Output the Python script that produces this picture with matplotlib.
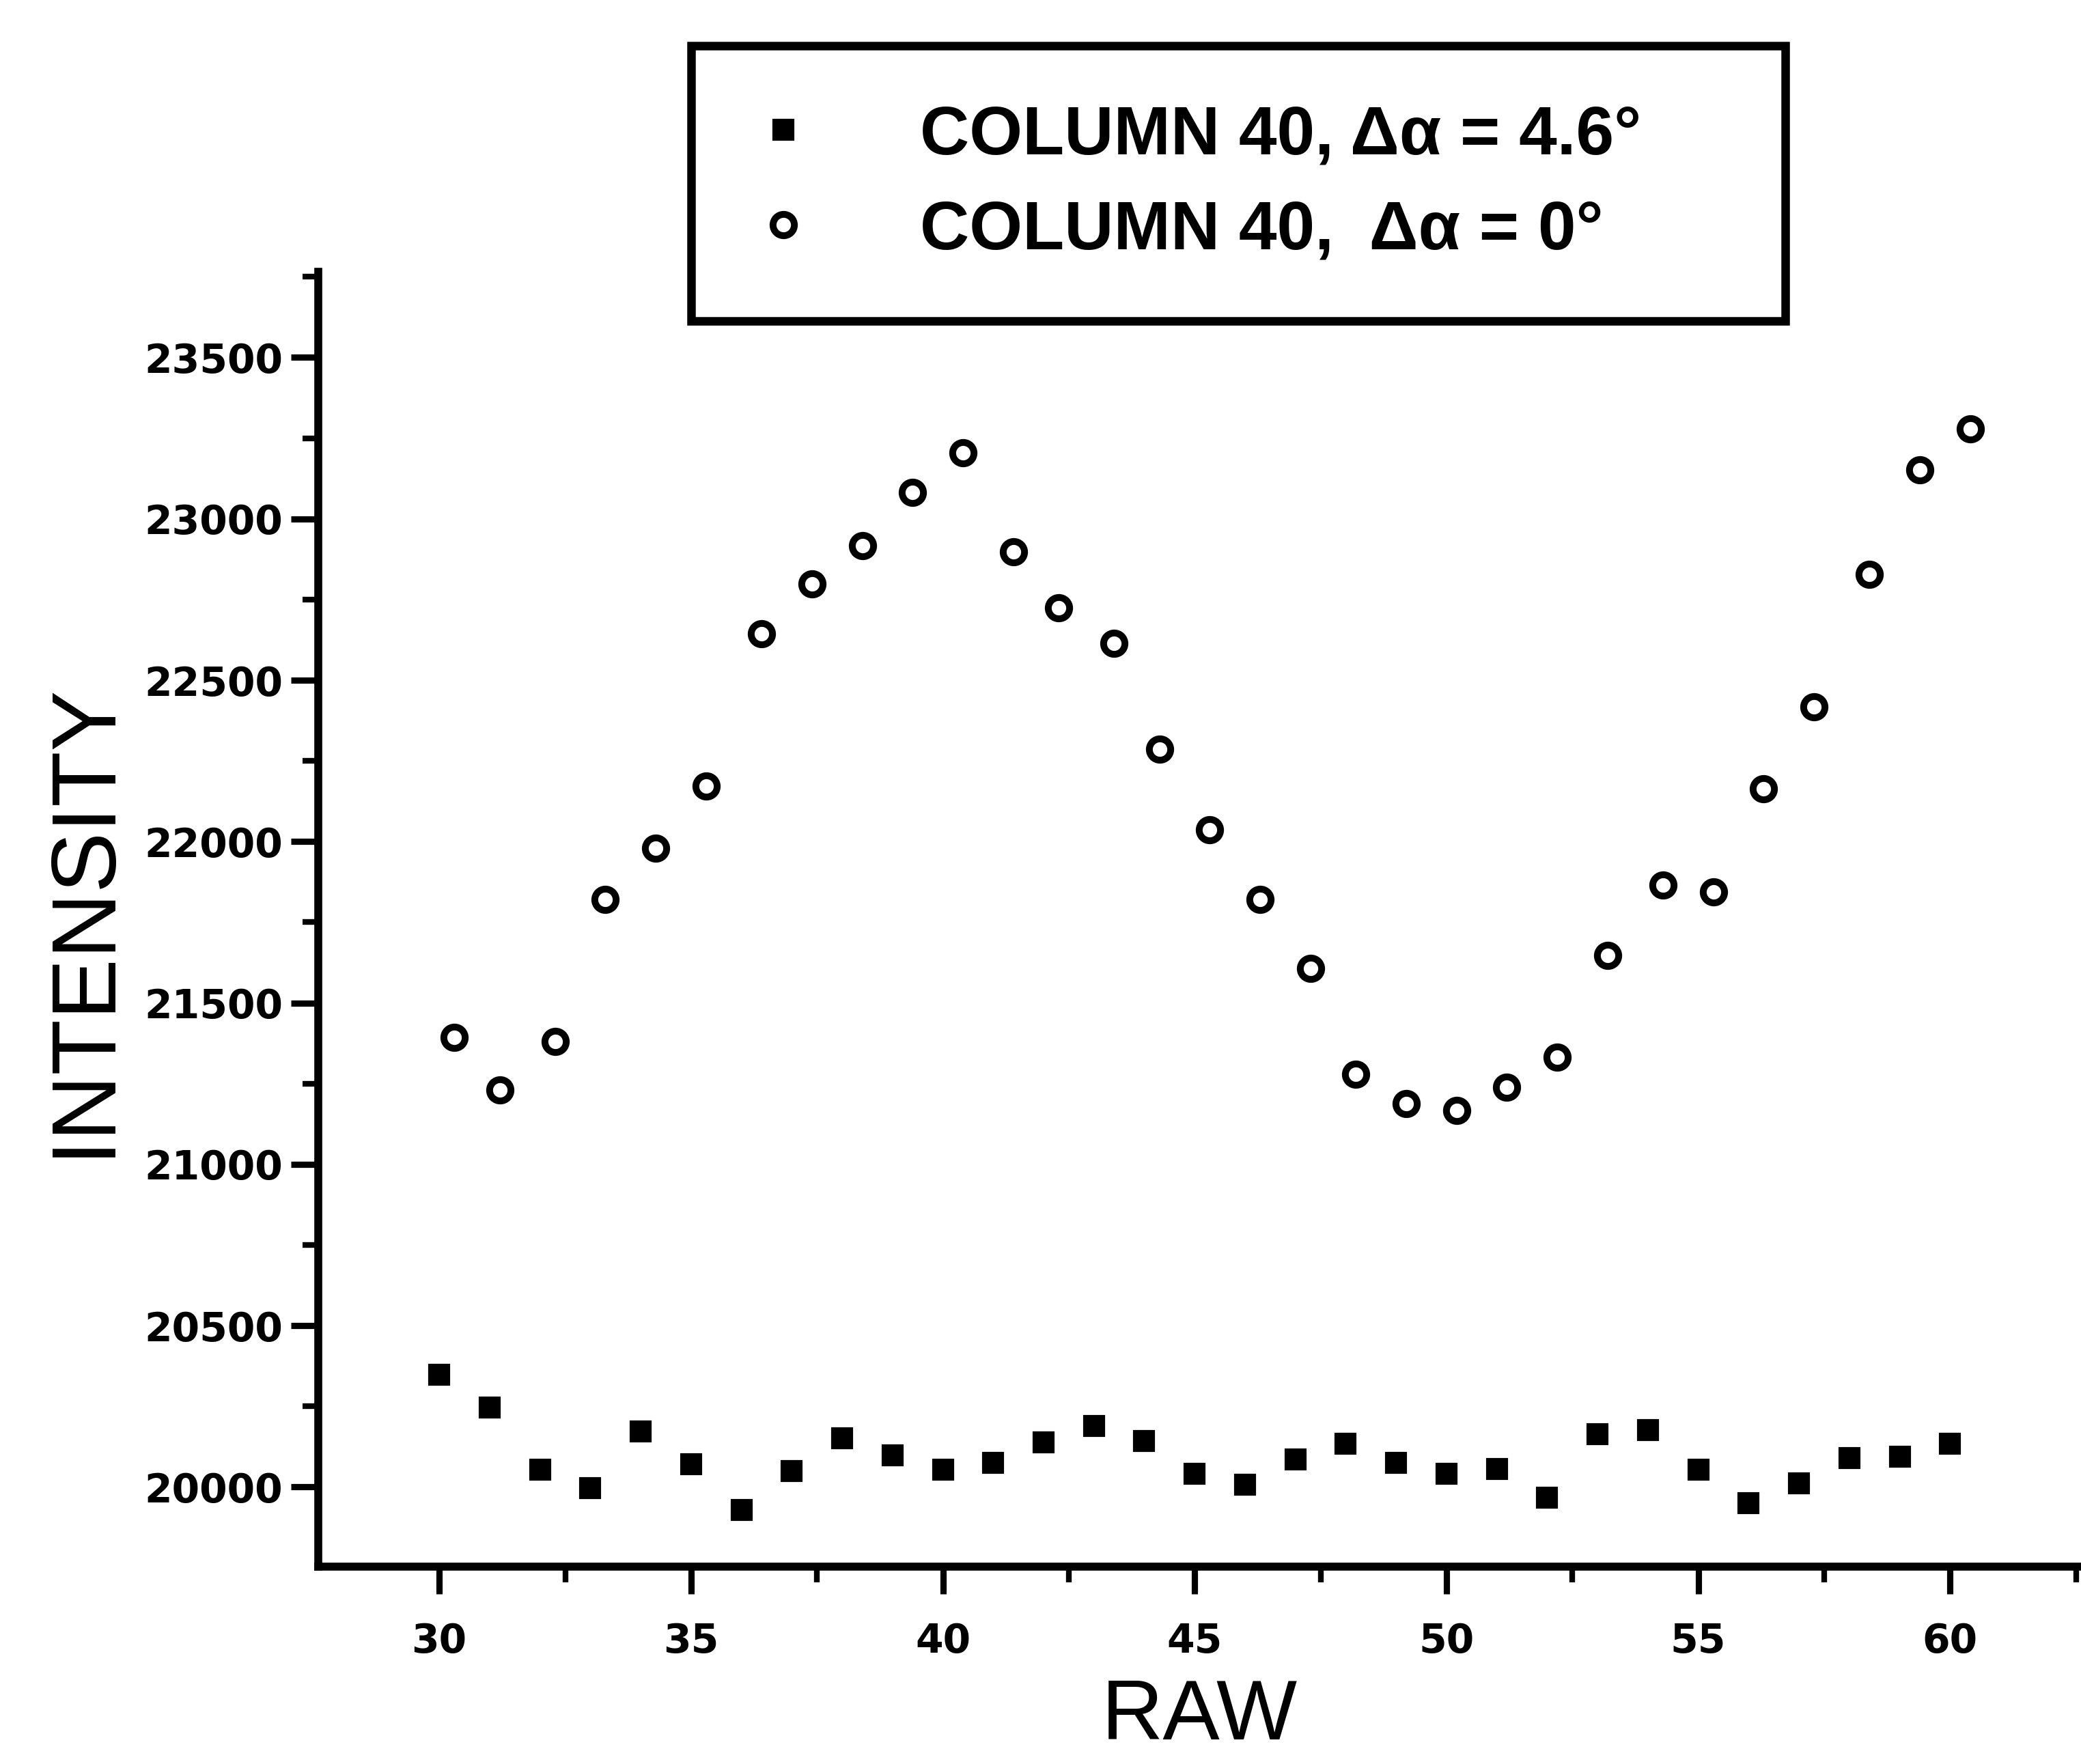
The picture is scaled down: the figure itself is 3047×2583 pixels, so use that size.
import numpy as np
import matplotlib
matplotlib.use('Agg')
import matplotlib.pyplot as plt
from matplotlib.ticker import MultipleLocator

plt.rcParams['font.family'] = ['Liberation Sans', 'DejaVu Sans']

# column 40, delta alpha = 4.6 deg (filled squares)
raw_sq = [30, 31, 32, 33, 34, 35, 36, 37, 38, 39, 40, 41, 42, 43, 44, 45,
          46, 47, 48, 49, 50, 51, 52, 53, 54, 55, 56, 57, 58, 59, 60]
int_sq = [20348, 20246, 20053, 19996, 20172, 20070, 19930, 20049, 20152, 20098,
          20053, 20074, 20139, 20189, 20143, 20041, 20008, 20086, 20135, 20074,
          20041, 20057, 19967, 20164, 20176, 20053, 19951, 20012, 20090, 20094,
          20135]

# column 40, delta alpha = 0 deg (open circles)
raw_ci = [30.3, 31.2, 32.3, 33.3, 34.3, 35.3, 36.4, 37.4, 38.4, 39.4, 40.4,
          41.4, 42.3, 43.4, 44.3, 45.3, 46.3, 47.3, 48.2, 49.2, 50.2, 51.2,
          52.2, 53.2, 54.3, 55.3, 56.3, 57.3, 58.4, 59.4, 60.4]
int_ci = [21393, 21230, 21381, 21820, 21980, 22172, 22643, 22799, 22918, 23082,
          23205, 22898, 22725, 22615, 22287, 22037, 21820, 21607, 21279, 21189,
          21168, 21238, 21332, 21648, 21865, 21844, 22164, 22418, 22828, 23152,
          23279]

fig = plt.figure(figsize=(3047 / 300, 2583 / 300), dpi=300)
ax = fig.add_axes([0.153, 0.112, 0.847, 0.734])

l1, = ax.plot(raw_sq, int_sq, linestyle='none', marker='s', markersize=6.5,
              color='black')
l2, = ax.plot(raw_ci, int_ci, linestyle='none', marker='o', markersize=7.5,
              markerfacecolor='white', markeredgecolor='black',
              markeredgewidth=2.4)

ax.set_xlim(27.6, 62.6)
ax.set_ylim(19754, 23766)

ax.xaxis.set_major_locator(MultipleLocator(5))
ax.xaxis.set_minor_locator(MultipleLocator(2.5))
ax.yaxis.set_major_locator(MultipleLocator(500))
ax.yaxis.set_minor_locator(MultipleLocator(250))

for s in ['top', 'right']:
    ax.spines[s].set_visible(False)
for s in ['left', 'bottom']:
    ax.spines[s].set_linewidth(2.8)

ax.tick_params(which='major', direction='out', length=9.5, width=2.2,
               pad=3)
ax.tick_params(which='minor', direction='out', length=5.5, width=2.0)
ax.tick_params(axis='x', which='major', pad=10)
for lab in ax.get_xticklabels() + ax.get_yticklabels():
    lab.set_fontfamily('DejaVu Sans')
    lab.set_fontweight('bold')
    lab.set_fontsize(14)

ax.set_xlabel('RAW', fontsize=30, labelpad=6)
ax.set_ylabel('INTENSITY', fontsize=32, labelpad=6)

leg = fig.legend([l1, l2],
                 ['COLUMN 40, \u0394\u03b1 = 4.6\u00b0',
                  'COLUMN 40,  \u0394\u03b1 = 0\u00b0'],
                 loc='upper left', bbox_to_anchor=(0.332, 0.819, 0.526, 0.155),
                 mode='expand', frameon=True, fancybox=False,
                 framealpha=1, handletextpad=1.5, borderpad=0.85,
                 labelspacing=0.45, handlelength=1.0, borderaxespad=0,
                 prop={'size': 24, 'weight': 'bold'})
leg.get_frame().set_edgecolor('black')
leg.get_frame().set_linewidth(3)

plt.savefig('out.png', dpi=300)
